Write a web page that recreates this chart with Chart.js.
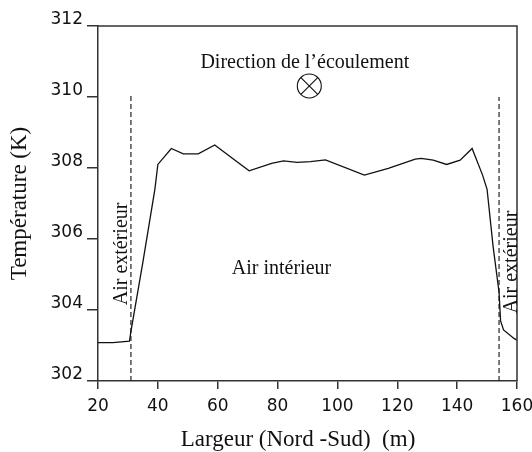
<!DOCTYPE html>
<html>
<head>
<meta charset="utf-8">
<title>Profil de température</title>
<script src="https://cdn.jsdelivr.net/npm/chart.js@4.4.1/dist/chart.umd.min.js"></script>
<style>
  html, body { margin: 0; padding: 0; background: #fff; }
  canvas { display: block; }
</style>
</head>
<body>
<canvas id="myChart" width="532" height="452"></canvas>
<script>
// profil de température le long de la largeur (m)
const largeur = [20, 25, 30.5, 31, 35, 39, 40, 42, 44.5, 48.5, 53.5, 59, 65, 70.5, 78, 82, 86.5, 91, 96,
  109, 117, 126, 128, 132, 136.5, 141, 145, 148.5, 150, 152, 154, 154.5, 155.5, 159, 160];
const temperature = [303.08, 303.08, 303.12, 303.4, 305.35, 307.4, 308.1, 308.3, 308.55, 308.4, 308.4,
  308.65, 308.27, 307.92, 308.13, 308.2, 308.16, 308.18, 308.23, 307.8, 307.99, 308.25, 308.27, 308.22,
  308.1, 308.22, 308.55, 307.8, 307.4, 305.8, 304.5, 303.7, 303.44, 303.2, 303.15];

// limites air extérieur / air intérieur
const limites = [31, 154];
const limitesHaut = [310.1, 310.0];

const xTicks = [20, 40, 60, 80, 100, 120, 140, 160];
const yTicks = [302, 304, 306, 308, 310, 312];

const ink = '#222';
const serif = 'Liberation Serif, Times New Roman, serif';

const profil = largeur.map((x, i) => ({ x: x, y: temperature[i] }));

const limiteSets = limites.map((x, i) => ({
  data: [{ x: x, y: yTicks[0] }, { x: x, y: limitesHaut[i] }],
  showLine: true,
  borderColor: ink,
  borderWidth: 1.2,
  borderDash: [5, 3],
  pointRadius: 0
}));

// textes et symbole de l'écoulement, placés en coordonnées des axes
const annotations = {
  id: 'annotations',
  afterDatasetsDraw(chart) {
    const { ctx, chartArea: a, scales: { x, y } } = chart;
    ctx.save();

    // cadre haut et droite
    ctx.strokeStyle = '#333';
    ctx.lineWidth = 1.5;
    ctx.beginPath();
    ctx.moveTo(a.left, a.top);
    ctx.lineTo(a.right, a.top);
    ctx.lineTo(a.right, a.bottom);
    ctx.stroke();

    ctx.fillStyle = '#111';
    ctx.font = '20px ' + serif;
    ctx.textAlign = 'center';
    ctx.textBaseline = 'alphabetic';
    ctx.fillText('Direction de l\u2019écoulement', x.getPixelForValue(89.1), y.getPixelForValue(310.81));
    ctx.fillText('Air intérieur', x.getPixelForValue(81.3), y.getPixelForValue(305.01));

    // textes verticaux
    [[29.7, 305.58], [159.9, 305.35]].forEach(([vx, vy]) => {
      ctx.save();
      ctx.translate(x.getPixelForValue(vx), y.getPixelForValue(vy));
      ctx.rotate(-Math.PI / 2);
      ctx.fillText('Air extérieur', 0, 0);
      ctx.restore();
    });

    // titre de l'axe x
    ctx.font = '23px ' + serif;
    ctx.textBaseline = 'middle';
    ctx.fillText('Largeur (Nord -Sud)  (m)', 298, 440);

    // symbole: écoulement entrant dans le plan
    const cx = x.getPixelForValue(90.6);
    const cy = y.getPixelForValue(310.31);
    const r = 12;
    ctx.strokeStyle = '#111';
    ctx.lineWidth = 1.1;
    ctx.beginPath();
    ctx.arc(cx, cy, r, 0, Math.PI * 2);
    const d = r * 0.7;
    ctx.moveTo(cx - d, cy - d); ctx.lineTo(cx + d, cy + d);
    ctx.moveTo(cx + d, cy - d); ctx.lineTo(cx - d, cy + d);
    ctx.stroke();

    ctx.restore();
  }
};

const ctx = document.getElementById('myChart').getContext('2d');
// eslint-disable-next-line no-undef
const chart = new Chart(ctx, {
  type: 'scatter',
  data: {
    datasets: [{
      data: profil,
      showLine: true,
      borderColor: '#111',
      borderWidth: 1.3,
      pointRadius: 0,
      tension: 0
    }].concat(limiteSets)
  },
  options: {
    responsive: false,
    animation: false,
    layout: { padding: { top: 26, right: 15, bottom: 0, left: 0 } },
    plugins: {
      legend: { display: false },
      tooltip: { enabled: false }
    },
    scales: {
      x: {
        type: 'linear',
        min: xTicks[0],
        max: xTicks[xTicks.length - 1],
        afterBuildTicks: (s) => { s.ticks = xTicks.map(v => ({ value: v })); },
        afterFit: (s) => { s.height = 71; s.paddingLeft = 0; s.paddingRight = 0; },
        ticks: { color: '#111', padding: 7, font: { family: 'DejaVu Sans', size: 17 } },
        grid: { drawOnChartArea: false, tickLength: 8, color: '#333', lineWidth: 1.5 },
        border: { color: '#333', width: 1.5 }
      },
      y: {
        min: yTicks[0],
        max: yTicks[yTicks.length - 1],
        afterBuildTicks: (s) => { s.ticks = yTicks.map(v => ({ value: v })); },
        afterFit: (s) => { s.width = 98; s.paddingTop = 0; s.paddingBottom = 0; },
        ticks: { color: '#111', padding: 4, labelOffset: -6, font: { family: 'DejaVu Sans', size: 17 } },
        grid: { drawOnChartArea: false, tickLength: 11, color: '#333', lineWidth: 1.5 },
        border: { color: '#333', width: 1.5 },
        title: {
          display: true,
          text: 'Température (K)',
          color: '#111',
          font: { family: serif, size: 23 },
          padding: { top: 6, bottom: 0 }
        }
      }
    }
  },
  plugins: [annotations]
});
</script>
</body>
</html>
